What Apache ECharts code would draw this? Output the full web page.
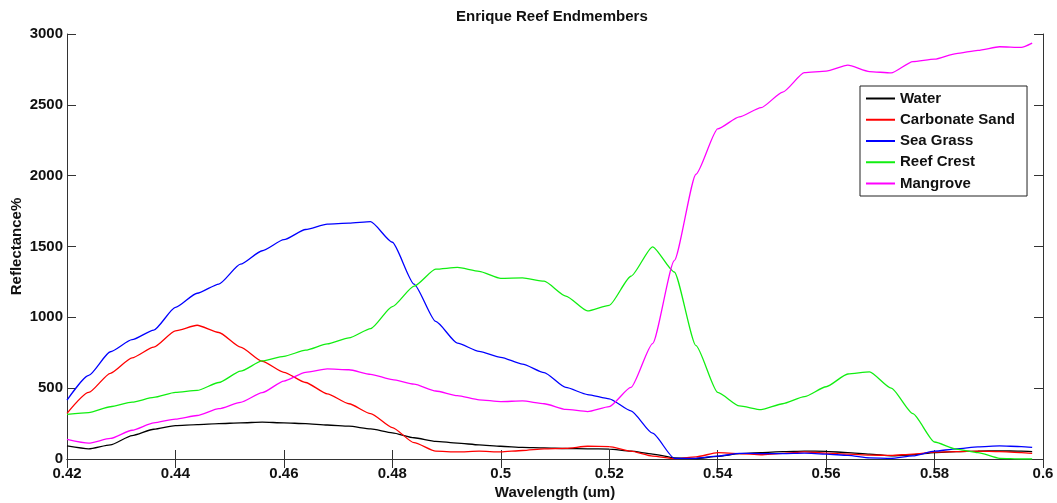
<!DOCTYPE html>
<html>
<head>
<meta charset="utf-8">
<script src="https://cdn.jsdelivr.net/npm/echarts@6/dist/echarts.min.js"></script>
<style>html,body{margin:0;padding:0;background:#fff}#c{width:1057px;height:503px}</style>
</head>
<body>
<div id="c"></div>
<script>
const wavelengths = [0.420,0.424,0.428,0.432,0.436,0.440,0.444,0.448,0.452,0.456,0.460,0.464,0.468,0.472,0.476,0.480,0.484,0.488,0.492,0.496,0.500,0.504,0.508,0.512,0.516,0.520,0.524,0.528,0.532,0.536,0.540,0.544,0.548,0.552,0.556,0.560,0.564,0.568,0.572,0.576,0.580,0.584,0.588,0.592,0.596,0.598];
const water = [92,72,100,165,210,236,243,250,255,260,255,250,240,232,212,185,150,125,112,100,90,82,78,74,72,70,55,35,8,3,18,38,45,52,56,54,45,35,22,30,46,52,56,58,55,52];
const carbonateSand = [322,470,605,714,790,905,944,893,790,690,612,540,460,390,320,222,115,55,50,55,50,60,72,75,90,88,55,20,2,15,45,38,30,40,50,42,35,28,25,35,48,52,56,52,45,40];
const seaGrass = [416,590,757,842,910,1070,1170,1235,1375,1470,1548,1620,1658,1665,1675,1530,1235,971,818,760,718,670,610,505,455,425,340,182,5,5,20,40,38,38,42,35,25,8,5,22,55,72,85,92,88,82];
const reefCrest = [315,328,369,401,435,470,484,540,620,692,725,768,812,855,920,1075,1220,1340,1352,1325,1275,1278,1255,1150,1045,1085,1290,1498,1320,800,470,375,348,390,440,510,600,615,500,320,120,70,45,5,0,0];
const mangrove = [139,112,145,203,255,282,307,355,400,468,550,612,636,630,598,560,528,480,447,418,405,410,390,350,335,370,505,815,1400,2010,2330,2415,2480,2590,2727,2738,2780,2735,2725,2805,2822,2862,2885,2910,2905,2935];
const seriesNames = ['Water','Carbonate Sand','Sea Grass','Reef Crest','Mangrove'];
const seriesColors = ['#000000','#ff0000','#0000ff','#11ee11','#ff00ff'];
const seriesValues = [water, carbonateSand, seaGrass, reefCrest, mangrove];

const font = 'Liberation Sans, Arial, Helvetica, sans-serif';
const axisCommon = {
  axisLine: {show: true, lineStyle: {color: '#333', width: 1}},
  axisTick: {show: true, inside: true, length: 9, lineStyle: {color: '#333', width: 1}},
  splitLine: {show: false}
};
const chart = echarts.init(document.getElementById('c'), null, {renderer: 'canvas'});
chart.setOption({
  animation: false,
  backgroundColor: '#fff',
  title: {
    text: 'Enrique Reef Endmembers', left: 456, top: 9, padding: 0,
    textStyle: {fontFamily: font, fontWeight: 'bold', fontSize: 15, color: '#111', lineHeight: 15}
  },
  grid: {left: 67, right: 14, top: 34, bottom: 44, containLabel: false, outerBoundsMode: 'none'},
  legend: {
    orient: 'vertical', left: 860, top: 86,
    padding: [5, 12, 5, 6], itemGap: 6.25,
    itemWidth: 29, itemHeight: 2, icon: 'rect',
    borderColor: '#222', borderWidth: 1, backgroundColor: '#fff',
    textStyle: {fontFamily: font, fontWeight: 'bold', fontSize: 15, color: '#111', lineHeight: 15},
    data: seriesNames
  },
  xAxis: [
    Object.assign({
      type: 'value', min: 0.42, max: 0.6, interval: 0.02, position: 'bottom',
      name: 'Wavelength (um)', nameLocation: 'middle', nameGap: 26, nameMoveOverlap: false,
      nameTextStyle: {fontFamily: font, fontWeight: 'bold', fontSize: 15, color: '#111'},
      axisLabel: {fontFamily: font, fontWeight: 'bold', fontSize: 15, color: '#111', margin: 7,
        formatter: v => String(parseFloat(Number(v).toFixed(2)))}
    }, axisCommon),
    Object.assign({
      type: 'value', min: 0.42, max: 0.6, interval: 0.02, position: 'top',
      axisLabel: {show: false}
    }, axisCommon)
  ],
  yAxis: [
    Object.assign({
      type: 'value', min: 0, max: 3000, interval: 500, position: 'left',
      name: 'Reflectance%', nameLocation: 'middle', nameGap: 43, nameMoveOverlap: false,
      nameTextStyle: {fontFamily: font, fontWeight: 'bold', fontSize: 15, color: '#111'},
      axisLabel: {fontFamily: font, fontWeight: 'bold', fontSize: 15, color: '#111', margin: 4,
        formatter: v => String(Math.round(v))}
    }, axisCommon),
    Object.assign({
      type: 'value', min: 0, max: 3000, interval: 500, position: 'right',
      axisLabel: {show: false}
    }, axisCommon)
  ],
  series: seriesNames.map((name, i) => ({
    name: name, type: 'line', xAxisIndex: 0, yAxisIndex: 0,
    symbol: 'none', showSymbol: false, smooth: 0.2, smoothMonotone: 'x',
    color: seriesColors[i],
    lineStyle: {color: seriesColors[i], width: 1.3},
    data: wavelengths.map((w, j) => [w, seriesValues[i][j]])
  }))
});
</script>
</body>
</html>
